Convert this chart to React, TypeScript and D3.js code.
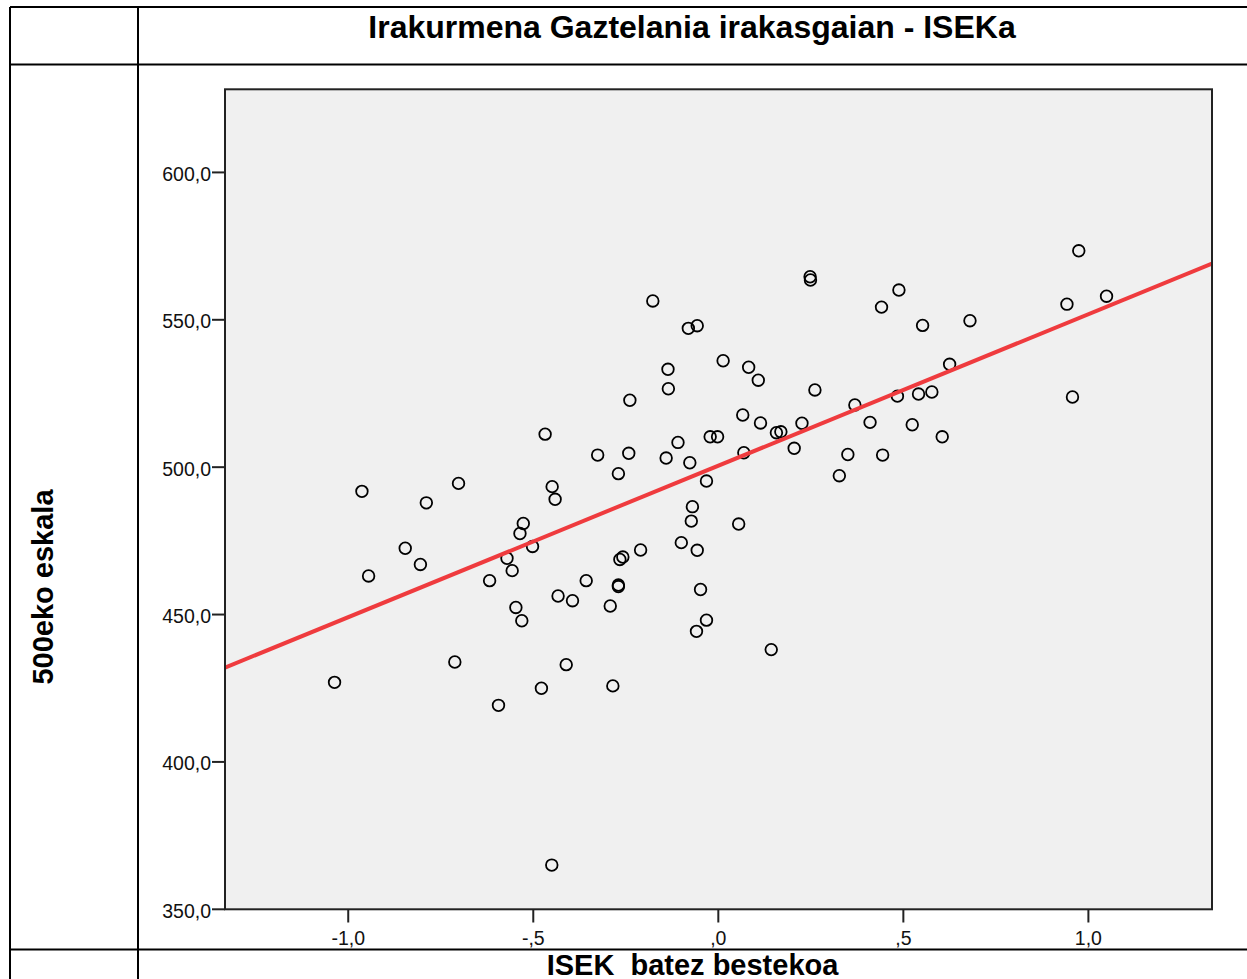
import React from 'react';
import * as d3 from 'd3';

// ISEK (x) vs 500eko eskala (y)
const ISEK = [
  -0.177, -0.081, -0.057, -0.136, -0.135, -0.239, -0.468, -0.022, -0.002, -0.109,
  -0.326, -0.242, -0.141, -0.077, -0.27, -0.032, -0.963, -0.789, -0.702, -0.449,
  -0.441, -0.07, -0.073, -0.527, -0.536, -0.502, -0.571, -0.557, -0.618, -0.846,
  -0.805, -0.945, -0.21, -0.266, -0.258, -0.1, -0.057, -0.048, -0.357, -0.27,
  -0.27, -0.433, -0.394, -0.547, -0.292, -0.531, -0.032, -0.059, -1.037, -0.712,
  -0.411, -0.478, -0.285, -0.594, -0.45, 0.974, 0.248, 0.249, 0.488, 0.441,
  0.942, 1.049, 0.552, 0.68, 0.013, 0.082, 0.108, 0.261, 0.625, 0.066,
  0.114, 0.157, 0.169, 0.226, 0.069, 0.205, 0.369, 0.41, 0.484, 0.541,
  0.577, 0.524, 0.605, 0.35, 0.444, 0.957, 0.327, 0.055, 0.143,
];

const SCORE = [
  556.4, 547.1, 548.0, 533.2, 526.6, 522.7, 511.2, 510.3, 510.3, 508.4,
  504.1, 504.7, 503.1, 501.5, 497.8, 495.3, 491.8, 487.9, 494.5, 493.4,
  489.1, 486.6, 481.7, 480.9, 477.5, 473.1, 469.1, 464.9, 461.5, 472.5,
  467.0, 463.1, 471.9, 468.7, 469.5, 474.4, 471.8, 458.5, 461.5, 460.0,
  459.5, 456.3, 454.7, 452.4, 452.9, 447.9, 448.1, 444.3, 427.0, 433.9,
  433.0, 425.0, 425.8, 419.2, 365.0, 573.4, 564.6, 563.5, 560.1, 554.3,
  555.3, 558.0, 548.1, 549.7, 536.1, 533.9, 529.5, 526.2, 534.9, 517.7,
  515.0, 511.7, 512.0, 514.9, 504.9, 506.4, 521.1, 515.2, 524.1, 524.8,
  525.5, 514.4, 510.3, 504.3, 504.1, 523.8, 497.1, 480.7, 438.1,
];

const X_TICKS = [-1, -0.5, 0, 0.5, 1];
const Y_TICKS = [350, 400, 450, 500, 550, 600];

// linear fit line shown in red
const FIT_INTERCEPT = 500.5;
const FIT_SLOPE = 51.4;

const TITLE = 'Irakurmena Gaztelania irakasgaian - ISEKa';
const X_LABEL = 'ISEK  batez bestekoa';
const Y_LABEL = '500eko eskala';

const W = 1247;
const H = 979;
const FONT = '"Liberation Sans", Arial, sans-serif';

// SPSS-like labels: -,5  ,0  1,0  600,0
const spss = (v: number) =>
  v.toFixed(1).replace(/^(-?)0\./, '$1.').replace('.', ',');

const App: React.FC = () => {
  const plot = { left: 225, right: 1212, top: 89.3, bottom: 909.3 };
  const x = d3.scaleLinear().domain([-1.333, 1.334]).range([plot.left, plot.right]);
  const y = d3.scaleLinear().domain([350, 628.2]).range([plot.bottom, plot.top]);

  const [x0, x1] = x.domain();
  const fit = d3.line<number>()
    .x((d) => x(d))
    .y((d) => y(FIT_INTERCEPT + FIT_SLOPE * d));

  const points = ISEK.map((v, i) => ({ x: v, y: SCORE[i] }));

  return (
    <svg
      width={W}
      height={H}
      style={{ position: 'absolute', left: 0, top: 0, background: '#fff' }}
      fontFamily={FONT}
    >
      {/* table frame */}
      <g stroke="#000" strokeWidth={2}>
        <line x1={10} x2={W} y1={7} y2={7} />
        <line x1={10} x2={W} y1={64.5} y2={64.5} />
        <line x1={10} x2={W} y1={949.5} y2={949.5} />
        <line x1={10} x2={10} y1={7} y2={H} />
        <line x1={138} x2={138} y1={7} y2={H} />
      </g>

      <text x={692} y={37.5} textAnchor="middle" fontSize={32} fontWeight="bold">
        {TITLE}
      </text>

      <text
        transform="translate(53,587) rotate(-90)"
        textAnchor="middle"
        fontSize={29}
        fontWeight="bold"
      >
        {Y_LABEL}
      </text>

      <text x={692.5} y={974.5} textAnchor="middle" fontSize={29} fontWeight="bold" style={{ whiteSpace: 'pre' }}>
        {X_LABEL}
      </text>

      <defs>
        <clipPath id="plot-clip">
          <rect x={plot.left} y={plot.top} width={plot.right - plot.left} height={plot.bottom - plot.top} />
        </clipPath>
      </defs>

      <rect
        x={plot.left}
        y={plot.top}
        width={plot.right - plot.left}
        height={plot.bottom - plot.top}
        fill="#f0f0f0"
      />

      <g clipPath="url(#plot-clip)">
        {points.map((p, i) => (
          <circle
            key={i}
            cx={x(p.x)}
            cy={y(p.y)}
            r={5.8}
            fill="none"
            stroke="#000"
            strokeWidth={1.8}
          />
        ))}
        <path d={fit([x0, x1]) ?? ''} stroke="#ef3b3e" strokeWidth={4} fill="none" />
      </g>

      <rect
        x={plot.left}
        y={plot.top}
        width={plot.right - plot.left}
        height={plot.bottom - plot.top}
        fill="none"
        stroke="#222"
        strokeWidth={2}
      />

      {Y_TICKS.map((t) => (
        <g key={t} transform={`translate(0,${y(t)})`}>
          <line x1={212} x2={plot.left} stroke="#222" strokeWidth={2} />
          <text x={211} y={8.5} textAnchor="end" fontSize={19.5} fill="#111">
            {spss(t)}
          </text>
        </g>
      ))}

      {X_TICKS.map((t) => (
        <g key={t} transform={`translate(${x(t)},0)`}>
          <line y1={plot.bottom} y2={922.5} stroke="#222" strokeWidth={2} />
          <text y={945} textAnchor="middle" fontSize={19.5} fill="#111">
            {spss(t)}
          </text>
        </g>
      ))}
    </svg>
  );
};

export default App;
